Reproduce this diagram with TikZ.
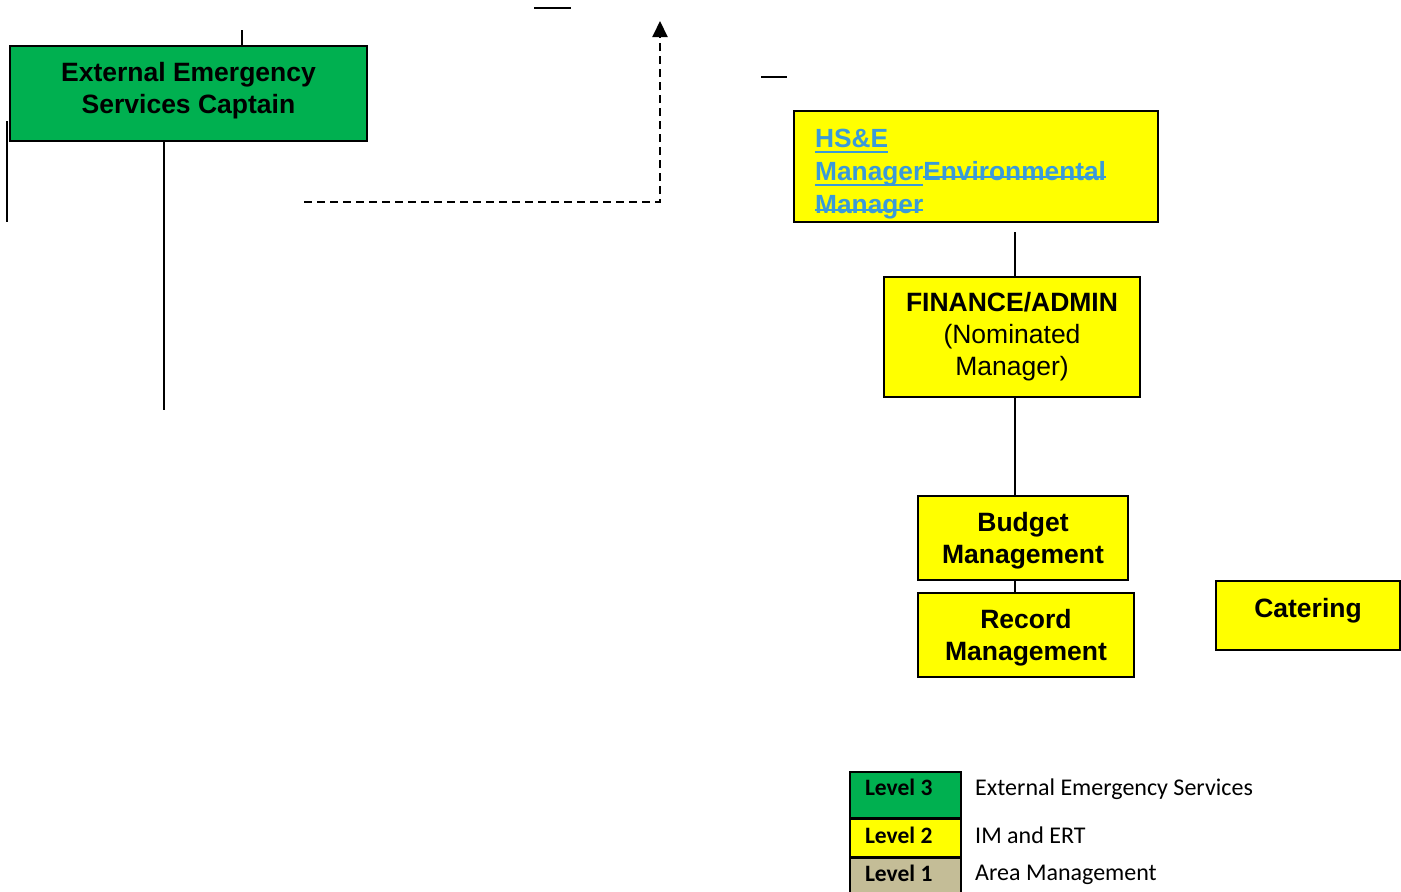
\documentclass[tikz,border=0pt]{standalone}
\usepackage{fontspec}
\setmainfont{Liberation Sans}
\newfontfamily\legendfont{Carlito}
\usepackage{tikz}
\usetikzlibrary{arrows.meta, positioning, calc}
\definecolor{lvlthree}{HTML}{00B050}
\definecolor{lvltwo}{HTML}{FFFF00}
\definecolor{lvlone}{HTML}{C4BD97}
\definecolor{hselink}{HTML}{3A9AD9}
\newcommand\hseunder[1]{\setbox0\hbox{#1}\rlap{\rule[-5pt]{\wd0}{2pt}}\box0}
\newcommand\hsestrike[1]{\setbox0\hbox{#1}\rlap{\rule[3pt]{\wd0}{2pt}}\box0}

\begin{document}
\begin{tikzpicture}[x=1pt, y=-1pt,
  orgbox/.style={draw, line width=2pt, fill=lvltwo, align=center, inner sep=0pt, font=\bfseries\fontsize{26.5}{32}\selectfont},
  legbox/.style={draw, line width=1.5pt, minimum width=111pt, inner xsep=15pt, text width=81pt, align=left, font=\legendfont\bfseries\fontsize{23.5}{27}\selectfont},
  legtext/.style={anchor=base west, inner sep=0pt, font=\legendfont\fontsize{24}{28}\selectfont},
  conn/.style={line width=2pt},
  dasharr/.style={line width=2pt, dash pattern=on 8pt off 5pt, -{Triangle[width=15pt, length=16pt]}}
]
\useasboundingbox (0,0) rectangle (1401,892);

% level 3
\node[orgbox, fill=lvlthree, minimum width=357pt, minimum height=95pt, text depth=11pt] (extcapt) at (188.5,93.5) {External Emergency\\Services Captain};

% level 2
\node[orgbox, minimum width=364pt, minimum height=111pt] (hse) at (976,166.5) {};
\node[anchor=north west, inner sep=0pt, align=left, text=hselink, font=\bfseries\fontsize{26.3}{33}\selectfont] (hsetext) at (815,129)
  {\hseunder{HS\&E}\\\hseunder{Manager}\hsestrike{Environmental}\\\hsestrike{Manager}};
\node[orgbox, minimum width=256pt, minimum height=120pt] (finance) at (1012,337) {FINANCE/ADMIN\\\mdseries(Nominated\\\mdseries Manager)};
\node[orgbox, minimum width=210pt, minimum height=84pt, text depth=0pt] (budget) at (1023,538) {Budget\\Management};
\node[orgbox, minimum width=216pt, minimum height=84pt, text depth=0pt] (record) at (1026,635) {Record\\Management};
\node[orgbox, minimum width=184pt, minimum height=69pt, text depth=16pt] (catering) at (1308,615.5) {Catering};

% stubs and connectors
\coordinate (capttop) at (242,30);
\coordinate (captfoot) at (164,410);
\coordinate (leftup) at (7,121);
\coordinate (leftdown) at (7,222);
\coordinate (dashstart) at (304,202);
\coordinate (dashtip) at (660,21);
\coordinate (topbarl) at (534,8);
\coordinate (topbarr) at (571,8);
\coordinate (midbarl) at (761,77);
\coordinate (midbarr) at (787,77);
\coordinate (hsefoot) at (1015,232);

\draw[conn] (capttop) -- (capttop |- extcapt.north);
\draw[conn] (captfoot |- extcapt.south) -- (captfoot);
\draw[conn] (leftup) -- (leftdown);
\draw[conn] (topbarl) -- (topbarr);
\draw[conn] (midbarl) -- (midbarr);
\draw[dasharr] (dashstart) -| (dashtip);
\draw[conn] (hsefoot) -- (hsefoot |- finance.north);
\draw[conn] (hsefoot |- finance.south) -- (hsefoot |- budget.north);
\draw[conn] (hsefoot |- budget.south) -- (hsefoot |- record.north);

% legend
\node[legbox, fill=lvlthree, minimum height=46pt, text depth=16pt] (lvl3) at (905.5,795) {Level\hspace{5.5pt}3};
\node[legbox, fill=lvltwo, minimum height=37pt, text depth=5pt, below=0pt of lvl3] (lvl2) {Level\hspace{5.5pt}2};
\node[legbox, fill=lvlone, minimum height=36pt, text depth=5pt, below=0pt of lvl2] (lvl1) {Level\hspace{5.5pt}1};
\node[legtext] (lvl3txt) at (975,795) {External Emergency Services};
\node[legtext] (lvl2txt) at (975,843) {IM and ERT};
\node[legtext] (lvl1txt) at (975,880) {Area Management};
\end{tikzpicture}
\end{document}
